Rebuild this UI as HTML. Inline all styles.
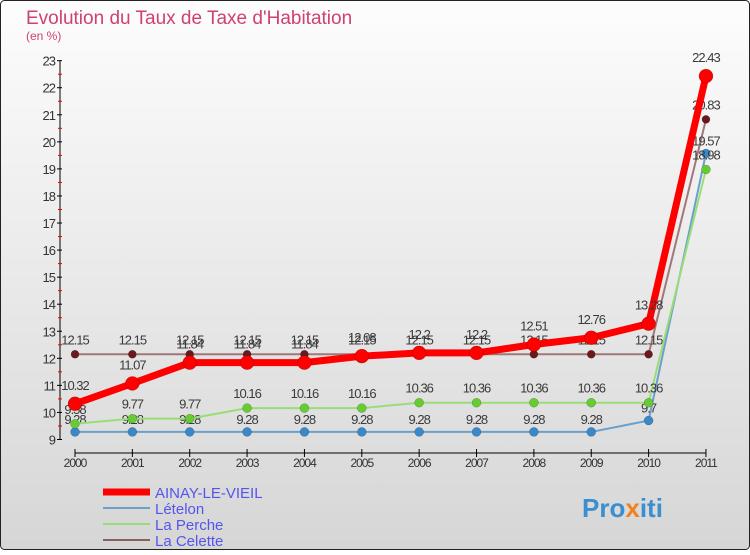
<!DOCTYPE html>
<html><head><meta charset="utf-8"><style>
body{margin:0;}
#c{width:750px;height:550px;position:relative;font-family:"Liberation Sans",sans-serif;}
</style></head><body>
<div id="c">
<svg width="750" height="550" xmlns="http://www.w3.org/2000/svg" id="svg">
<defs><linearGradient id="bg" x1="0" y1="0" x2="0" y2="1"><stop offset="0" stop-color="#fdfdfd"/><stop offset="1" stop-color="#d6d6d6"/></linearGradient></defs>
<rect x="0.5" y="0.5" width="749" height="549" rx="4" fill="url(#bg)" stroke="#222"/>
<text x="26" y="24" font-size="19" fill="#d04070">Evolution du Taux de Taxe d'Habitation</text>
<text x="26" y="40" font-size="12" fill="#d04070">(en %)</text>
<g id="axes"></g>
<g id="series"></g>
<g id="legend">
<line x1="103" y1="492" x2="150" y2="492" stroke="#ff0000" stroke-width="7"/>
<text x="155" y="498" font-size="15" fill="#5555ee">AINAY-LE-VIEIL</text>
<line x1="103" y1="508" x2="150" y2="508" stroke="#6aa0cc" stroke-width="2"/>
<text x="155" y="514" font-size="15" fill="#5555ee">Lételon</text>
<line x1="103" y1="524" x2="150" y2="524" stroke="#99dd77" stroke-width="2"/>
<text x="155" y="530" font-size="15" fill="#5555ee">La Perche</text>
<line x1="103" y1="540" x2="150" y2="540" stroke="#886060" stroke-width="2"/>
<text x="155" y="546" font-size="15" fill="#5555ee">La Celette</text>
</g>
<text x="582" y="517" font-size="26" font-weight="bold" fill="#3a8fd0">Pro<tspan fill="#f08020">x</tspan>iti</text>
</svg>
</div>
<script>
const years=[2000,2001,2002,2003,2004,2005,2006,2007,2008,2009,2010,2011];
const yTicks=[9,10,11,12,13,14,15,16,17,18,19,20,21,22,23];
const ainay=[10.32,11.07,11.84,11.84,11.84,12.08,12.2,12.2,12.51,12.76,13.28,22.43];
const letelon=[9.28,9.28,9.28,9.28,9.28,9.28,9.28,9.28,9.28,9.28,9.7,19.57];
const perche=[9.58,9.77,9.77,10.16,10.16,10.16,10.36,10.36,10.36,10.36,10.36,18.98];
const celette=[12.15,12.15,12.15,12.15,12.15,12.15,12.15,12.15,12.15,12.15,12.15,20.83];
const NS="http://www.w3.org/2000/svg";
const X=i=>75+i*57.36;
const Y=v=>439.5-(v-9)*27.06;
function mk(tag,attrs,parent,text){const e=document.createElementNS(NS,tag);for(const k in attrs)e.setAttribute(k,attrs[k]);if(text!==undefined)e.textContent=text;parent.appendChild(e);return e;}
const ax=document.getElementById('axes');
let e=mk('line',{x1:60,y1:Y(23),x2:60,y2:Y(9),stroke:'#000'},ax);


yTicks.forEach(t=>{mk('line',{x1:57,y1:Y(t),x2:62,y2:Y(t),stroke:'#000'},ax);
 if(t<23)mk('line',{x1:58,y1:Y(t+0.5),x2:62,y2:Y(t+0.5),stroke:'#e00'},ax);
 const l=mk('text',{x:55,y:Y(t)+5,'font-size':13,'text-anchor':'end',fill:'#333','letter-spacing':'-1'},ax,String(t));
 
 });
e=mk('line',{x1:X(0),y1:453,x2:X(11),y2:453,stroke:'#000'},ax);


years.forEach((y,i)=>{mk('line',{x1:X(i),y1:449,x2:X(i),y2:457,stroke:'#000'},ax);
 const l=mk('text',{x:X(i),y:467,'font-size':12,'text-anchor':'middle',fill:'#333','letter-spacing':'-1'},ax,String(y));
 
 });
const sg=document.getElementById('series');
function series(name,vals,color,dot,w,r,dy){
 const g=mk('g',{},sg);
 
 
 const p=mk('polyline',{points:vals.map((v,i)=>X(i)+','+Y(v)).join(' '),fill:'none',stroke:color,'stroke-width':w,'stroke-linejoin':'round'},g);
 
 
 vals.forEach((v,i)=>{const c=mk('circle',{cx:X(i),cy:Y(v),r:r,fill:dot,stroke:'rgba(0,0,0,0.3)','stroke-width':0.5},g);
  
  
  const t=mk('text',{x:X(i),y:Y(v)-dy,'font-size':13,'text-anchor':'middle',fill:'#3a3a3a','letter-spacing':'-1'},g,String(v));
  
  });
}
series('la-celette',celette,'#a07878','#6a1a1a',2,4,10);
series('letelon',letelon,'#6aa0cc','#3a88c8',2,4.5,8);
series('la-perche',perche,'#99dd77','#66cc33',2,4.5,10);
series('ainay',ainay,'#ff0000','#ff0000',7,7,14);
</script>
</body></html>
